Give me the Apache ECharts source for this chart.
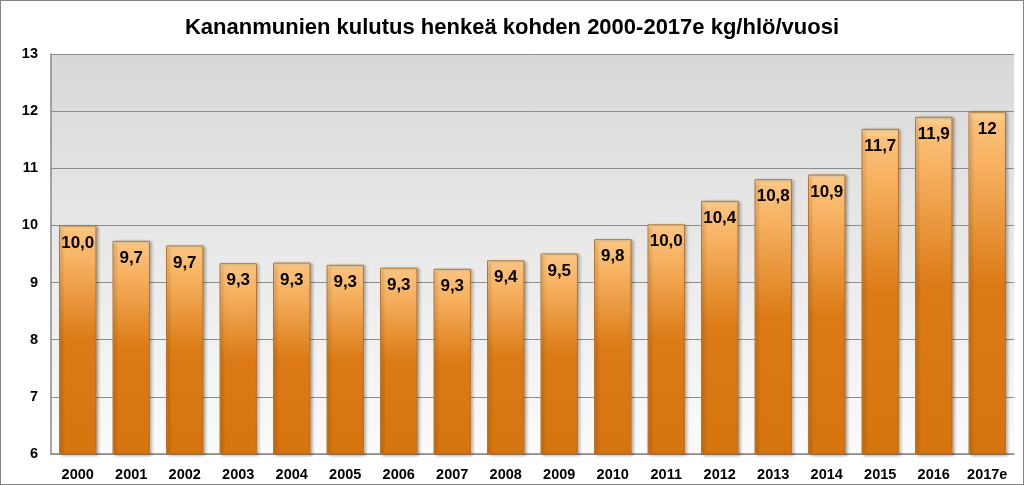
<!DOCTYPE html>
<html>
<head>
<meta charset="utf-8">
<script src="https://cdn.jsdelivr.net/npm/echarts@6/dist/echarts.min.js"></script>
<style>
html,body{margin:0;padding:0;background:#fff;}
#c{width:1024px;height:485px;box-sizing:border-box;border:1px solid #858585;}
</style>
</head>
<body>
<div id="c"></div>
<script>
const titleText = 'Kananmunien kulutus henkeä kohden 2000-2017e kg/hlö/vuosi';
const years = ['2000','2001','2002','2003','2004','2005','2006','2007','2008','2009','2010','2011','2012','2013','2014','2015','2016','2017e'];
const values = [10.0, 9.73, 9.65, 9.34, 9.35, 9.31, 9.26, 9.24, 9.39, 9.51, 9.76, 10.02, 10.43, 10.81, 10.89, 11.69, 11.9, 11.99];
const labels = ['10,0','9,7','9,7','9,3','9,3','9,3','9,3','9,3','9,4','9,5','9,8','10,0','10,4','10,8','10,9','11,7','11,9','12'];
const yTicks = [6,7,8,9,10,11,12,13];

const chart = echarts.init(document.getElementById('c'), null, {renderer:'canvas'});
const font = 'Liberation Sans, Arial, sans-serif';
chart.setOption({
  animation:false,
  backgroundColor:'#ffffff',
  title:{
    text:titleText, left:'center', top:11,
    textStyle:{fontFamily:font, fontWeight:'bold', fontSize:22, color:'#000'}
  },
  grid:{left:50, right:9, top:53, bottom:30, show:true, borderWidth:0,
    backgroundColor:{type:'linear',x:0,y:0,x2:0,y2:1,colorStops:[{offset:0,color:'#d8d8d8'},{offset:1,color:'#fbfbfb'}]}},
  xAxis:{
    type:'category', data:years,
    axisLine:{lineStyle:{color:'#8a8a8a',width:1.5}},
    axisTick:{show:false},
    axisLabel:{fontFamily:font, fontWeight:'bold', fontSize:14.5, color:'#000', margin:13}
  },
  yAxis:{
    type:'value', min:yTicks[0], max:yTicks[yTicks.length-1], interval:1,
    axisLine:{show:true, lineStyle:{color:'#8a8a8a',width:1.5}},
    axisTick:{show:false},
    splitLine:{lineStyle:{color:'#8c8c8c',width:1}},
    axisLabel:{fontFamily:font, fontWeight:'bold', fontSize:14.5, color:'#000', margin:13}
  },
  series:[{
    type:'bar', data:values, barWidth:'70%',
    itemStyle:{
      color:{type:'linear',x:0,y:0,x2:0,y2:1,colorStops:[
        {offset:0,color:'#fde0a8'},
        {offset:0.025,color:'#fbc27c'},
        {offset:0.15,color:'#f7b262'},
        {offset:0.5,color:'#dc7b16'},
        {offset:1,color:'#d6740e'}]},
      borderColor:'#b8742c', borderWidth:1,
      shadowColor:'rgba(0,0,0,0.35)', shadowBlur:3, shadowOffsetX:2, shadowOffsetY:1
    },
    label:{
      show:true, position:'insideTop', distance:9,
      formatter:p=>labels[p.dataIndex],
      fontFamily:font, fontWeight:'bold', fontSize:17, color:'#000'
    }
  }]
});
</script>
</body>
</html>
